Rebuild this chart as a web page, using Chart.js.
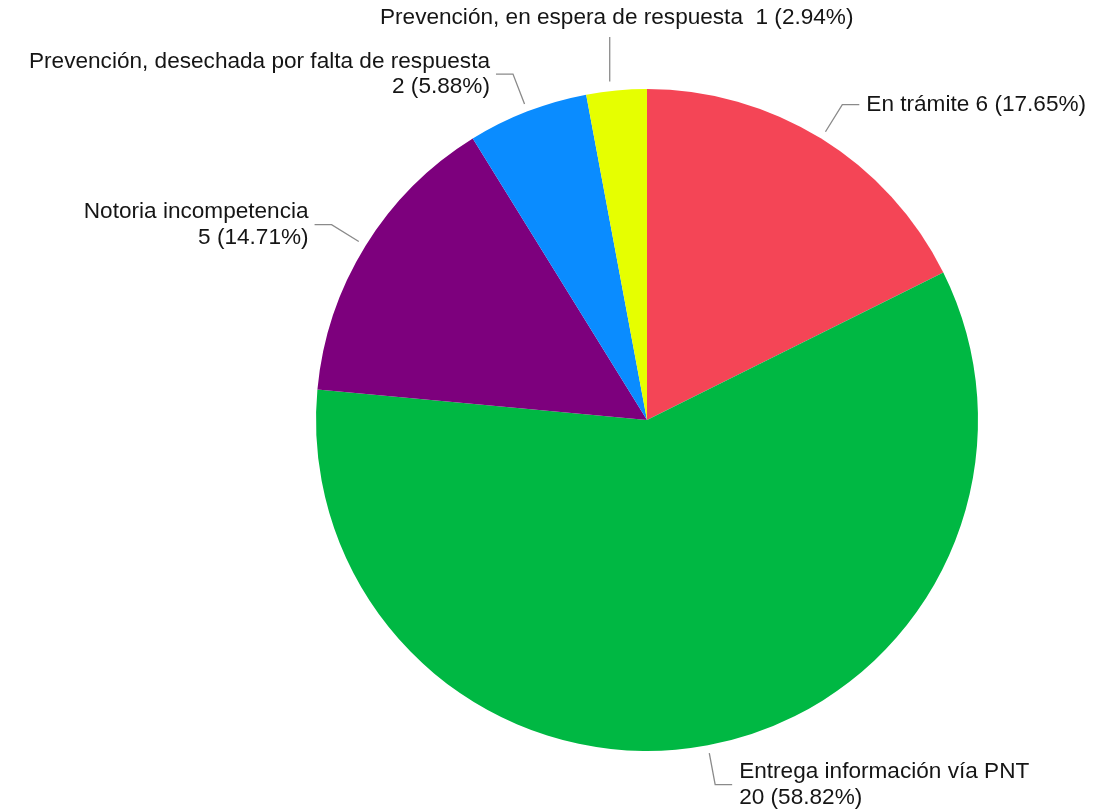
<!DOCTYPE html>
<html>
<head>
<meta charset="utf-8">
<script src="https://cdn.jsdelivr.net/npm/chart.js"></script>
<style>
  html, body { margin: 0; padding: 0; background: #fff; }
  #wrap { width: 1099px; height: 811px; }
</style>
</head>
<body>
<div id="wrap"><canvas id="pieChart" width="1099" height="811"></canvas></div>
<script>
// data
const categories = ['En trámite', 'Entrega información vía PNT', 'Notoria incompetencia',
                    'Prevención, desechada por falta de respuesta', 'Prevención, en espera de respuesta'];
const values = [6, 20, 5, 2, 1];
const sliceColors = ['#f44556', '#00b843', '#7d007d', '#0a8cff', '#e6ff00'];

// how each label is placed: 'one' = single line, 'two' = name above count, 'top' = vertical leader, text above
const labelModes = ['one', 'two', 'two', 'two', 'top'];

const total = values.reduce((a, b) => a + b, 0);
const countText = i => values[i] + ' (' + (values[i] / total * 100).toFixed(2) + '%)';

const leaderLabels = {
    id: 'leaderLabels',
    afterDraw(chart) {
        const ctx = chart.ctx;
        const meta = chart.getDatasetMeta(0);
        ctx.save();
        ctx.font = '22.6px "Liberation Sans", Arial, sans-serif';
        ctx.fillStyle = '#151515';
        ctx.strokeStyle = '#8a8a8a';
        ctx.lineWidth = 1.3;
        meta.data.forEach((arc, i) => {
            const p = arc.getProps(['x', 'y', 'startAngle', 'endAngle', 'outerRadius'], true);
            const mid = (p.startAngle + p.endAngle) / 2;
            const r = p.outerRadius;
            const sx = p.x + Math.cos(mid) * (r + 8);
            const sy = p.y + Math.sin(mid) * (r + 8);
            const mode = labelModes[i];
            if (mode === 'top') {
                ctx.beginPath();
                ctx.moveTo(sx - 6, sy - 1);
                ctx.lineTo(sx - 6, 37);
                ctx.stroke();
                ctx.textAlign = 'center';
                ctx.textBaseline = 'middle';
                ctx.fillText(categories[i] + '  ' + countText(i), sx + 1, 18);
                return;
            }
            const ex = p.x + Math.cos(mid) * (r + 40);
            const ey = p.y + Math.sin(mid) * (r + 40);
            const right = Math.cos(mid) >= 0;
            const hx = ex + (right ? 17 : -17);
            ctx.beginPath();
            ctx.moveTo(sx, sy);
            ctx.lineTo(ex, ey);
            ctx.lineTo(hx, ey);
            ctx.stroke();
            ctx.textAlign = right ? 'left' : 'right';
            ctx.textBaseline = 'middle';
            const tx = hx + (right ? 7 : -6);
            if (mode === 'one') {
                ctx.fillText(categories[i] + ' ' + countText(i), tx, ey);
            } else {
                ctx.fillText(categories[i], tx, ey - 12.5);
                ctx.fillText(countText(i), tx, ey + 13);
            }
        });
        ctx.restore();
    }
};

const ctx = document.getElementById('pieChart').getContext('2d');
const pieChart = new Chart(ctx, {
    type: 'pie',
    data: {
        labels: categories,
        datasets: [{
            data: values,
            backgroundColor: sliceColors,
            borderWidth: 0
        }]
    },
    options: {
        responsive: false,
        animation: false,
        layout: {
            padding: { left: 316, right: 121, top: 89, bottom: 60 }
        },
        plugins: {
            legend: { display: false },
            tooltip: { enabled: false }
        }
    },
    plugins: [leaderLabels]
});
</script>
</body>
</html>
